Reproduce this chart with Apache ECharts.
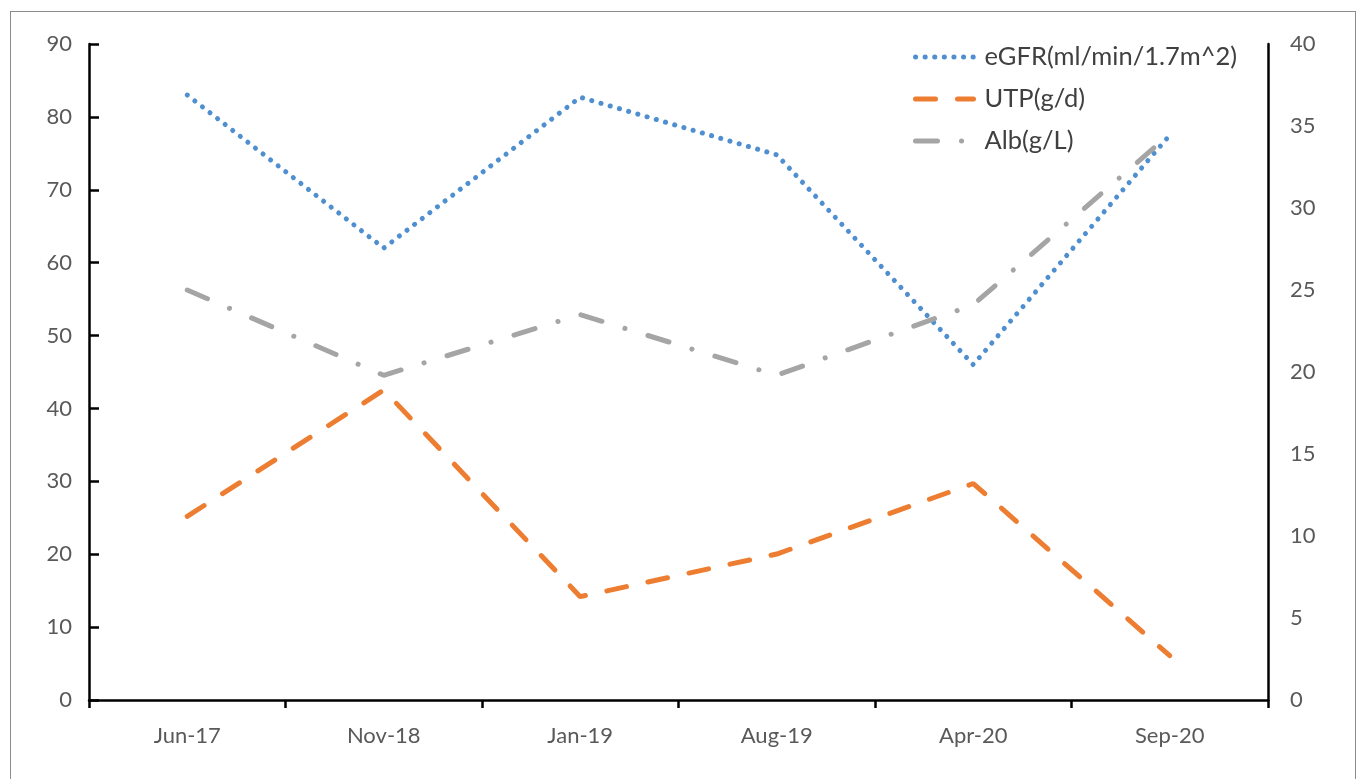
<!DOCTYPE html>
<html>
<head>
<meta charset="utf-8">
<script src="https://cdn.jsdelivr.net/npm/echarts@6/dist/echarts.min.js"></script>
<style>
  html, body { margin: 0; padding: 0; background: #fff; }
  .frame {
    position: absolute; left: 10px; top: 11px; width: 1346px; height: 790px;
    border: 1px solid #8c8c8c; box-sizing: border-box;
  }
  #chart { position: absolute; left: 0; top: 0; width: 1359px; height: 779px; }
</style>
</head>
<body>
<div class="frame"></div>
<div id="chart"></div>
<script>
// categories and series values
const categories = ["Jun-17", "Nov-18", "Jan-19", "Aug-19", "Apr-20", "Sep-20"];
const egfr = [83, 62, 82.7, 74.8, 46, 77.5];   // left axis
const utp = [11.2, 18.9, 6.3, 8.9, 13.2, 2.7];  // right axis
const alb = [25, 19.8, 23.5, 19.8, 24.1, 34.5]; // right axis

const fontFamily = "Lato, 'Noto Sans', sans-serif";
const labelColor = "#595959";

const chart = echarts.init(document.getElementById("chart"));

const option = {
  animation: false,
  grid: { left: 89, right: 91, top: 44, bottom: 79 },
  legend: {
    orient: "vertical",
    left: 908,
    top: 39,
    itemWidth: 58,
    itemHeight: 14,
    itemGap: 16,
    itemStyle: { color: "rgba(0,0,0,0)", opacity: 0, borderWidth: 0 },
    lineStyle: { width: "inherit" },
    textStyle: { color: "#404040", fontSize: 25.5, fontFamily: fontFamily, padding: [0, 0, 0, 6] },
    data: ["eGFR(ml/min/1.7m^2)", "UTP(g/d)", "Alb(g/L)"],
  },
  xAxis: {
    type: "category",
    data: categories,
    boundaryGap: true,
    axisLine: { lineStyle: { color: "#000", width: 2.5 } },
    axisTick: { show: true, length: 8, lineStyle: { color: "#000", width: 2.5 } },
    axisLabel: { color: labelColor, fontSize: 22, fontFamily: fontFamily, margin: 25 },
  },
  yAxis: [
    {
      type: "value",
      min: 0,
      max: 90,
      interval: 10,
      splitLine: { show: false },
      axisLine: { show: true, lineStyle: { color: "#000", width: 2.5 } },
      axisTick: { show: true, inside: true, length: 10, lineStyle: { color: "#000", width: 2.5 } },
      axisLabel: { color: labelColor, fontSize: 22, fontFamily: fontFamily, margin: 17 },
    },
    {
      type: "value",
      min: 0,
      max: 40,
      interval: 5,
      position: "right",
      splitLine: { show: false },
      axisLine: { show: true, lineStyle: { color: "#000", width: 2.5 } },
      axisTick: { show: false },
      axisLabel: { color: labelColor, fontSize: 22, fontFamily: fontFamily, margin: 22 },
    },
  ],
  series: [
    {
      name: "eGFR(ml/min/1.7m^2)",
      type: "line",
      yAxisIndex: 0,
      data: egfr,
      symbol: "none",
      lineStyle: { color: "#4f8fd0", width: 5, type: [0.1, 9.5], cap: "round" },
      itemStyle: { color: "#4f8fd0" },
    },
    {
      name: "UTP(g/d)",
      type: "line",
      yAxisIndex: 1,
      data: utp,
      symbol: "none",
      lineStyle: { color: "#ed7d31", width: 5, type: [20, 22], cap: "round" },
      itemStyle: { color: "#ed7d31" },
    },
    {
      name: "Alb(g/L)",
      type: "line",
      yAxisIndex: 1,
      data: alb,
      symbol: "none",
      lineStyle: { color: "#a5a5a5", width: 5, type: [22, 24, 0.1, 24], cap: "round" },
      itemStyle: { color: "#a5a5a5" },
    },
  ],
};

chart.setOption(option);
window.addEventListener("resize", () => {
  chart.resize();
});
</script>
</body>
</html>
